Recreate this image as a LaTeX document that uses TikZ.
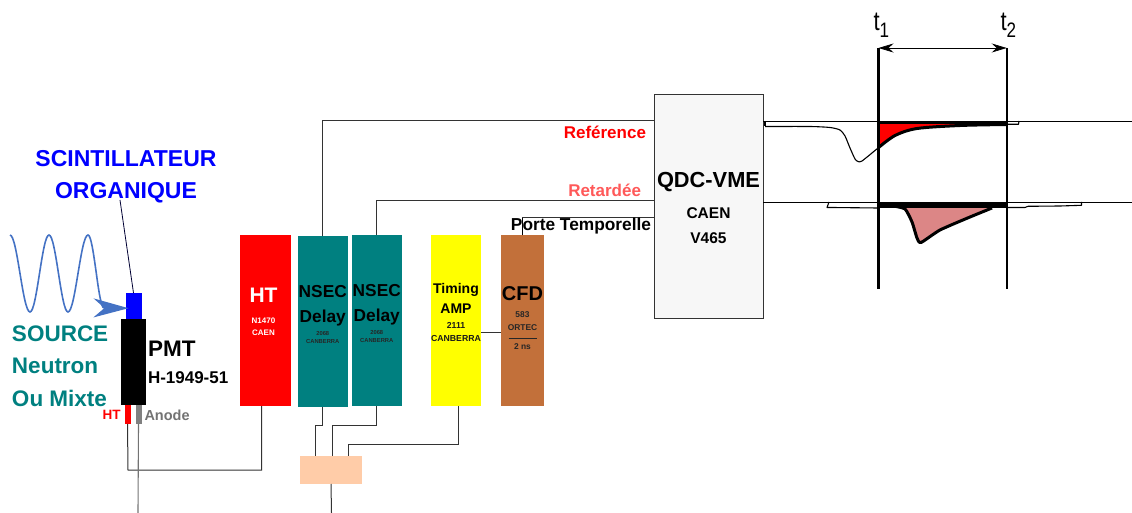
\documentclass[tikz,border=0pt]{standalone}
\usepackage{graphicx}
\usepackage{fontspec}
\setmainfont{Liberation Sans}
\usetikzlibrary{positioning,arrows.meta}
\definecolor{tealblock}{RGB}{0,128,128}
\definecolor{brownblock}{HTML}{C2703A}
\definecolor{peachblock}{HTML}{FFCCA8}
\definecolor{yellowblock}{RGB}{255,255,0}
\definecolor{wavecol}{HTML}{4472C4}
\definecolor{pinkpulse}{HTML}{DC8686}
\newcommand{\fs}[1]{\fontsize{#1}{#1}\selectfont\bfseries}
\newcommand{\tlabel}[1]{\scalebox{1.1}[1.35]{\fontsize{20}{20}\selectfont t\raisebox{-5pt}{\fontsize{15.5}{15.5}\selectfont #1}}}
\begin{document}
\begin{tikzpicture}[x=1pt, y=-1pt,
  main/.style = {draw=none, rectangle, inner sep=0pt, outer sep=0pt, minimum width=#1, minimum height=171pt},
  part/.style = {draw=none, rectangle, inner sep=0pt, outer sep=0pt},
  txt/.style = {inner sep=0pt, outer sep=0pt, align=center},
  conn/.style = {line width=1pt, black!80},
  timeline/.style = {line width=2.4pt, black},
  pulse/.style = {line width=1.1pt, black, line join=round},
  thickpulse/.style = {line width=3pt, black, line join=round}]
\useasboundingbox (0,0) rectangle (1132,513);

\node[main=51pt, fill=red] (ht) at (265.5,320.5) {};
\node[main=50.5pt, fill=tealblock, right=6.5pt of ht, yshift=-1pt] (nsecone) {};
\node[main=49.5pt, fill=tealblock, right=4pt of nsecone, yshift=1pt] (nsectwo) {};
\node[main=50pt, fill=yellowblock, right=29.5pt of nsectwo] (timing) {};
\node[main=43pt, fill=brownblock, right=20pt of timing] (cfd) {};
\node[part, fill=peachblock, minimum width=62pt, minimum height=28pt] (mix) at (331,470) {};
\node[part, draw=black!80, line width=0.9pt, fill=black!3, minimum width=109pt, minimum height=223.5pt] (qdc) at (708.5,206.2) {};

\node[part, fill=black, minimum width=25pt, minimum height=85.5pt] (pmt) at (133.5,362.2) {};
\node[part, fill=blue, minimum width=16pt, minimum height=26.5pt, above=0pt of pmt] (scint) {};
\node[part, fill=red, minimum width=6pt, minimum height=19pt, below left=0pt and -9.5pt of pmt] (hvpin) {};
\node[part, fill=black!50, minimum width=6pt, minimum height=19pt, below right=0pt and -10.5pt of pmt] (anodepin) {};

\coordinate (refin) at (654,121);
\coordinate (delin) at (654,201);
\coordinate (gatein) at (654,218);
\coordinate (refend) at (1132,121);
\coordinate (delend) at (1132,202);
\coordinate (anodeend) at (138,513);
\coordinate (mixend) at (331.5,513);
\coordinate (scinttxt) at (120,200);

\draw[conn] (nsecone.north) |- (refin);
\draw[conn] (nsectwo.north) |- (delin);
\draw[conn] (cfd.north) |- (gatein);
\draw[conn] ([yshift=-12pt]timing.east) -- ([yshift=-12pt]cfd.west);
\draw[conn] ([xshift=2pt]timing.south) |- (348,444) -- ([xshift=17pt]mix.north);
\draw[conn] (nsecone.south) |- (315.5,425) -- ([xshift=-15.5pt]mix.north);
\draw[conn] (nsectwo.south) |- (332,425) -- ([xshift=1pt]mix.north);
\draw[conn] ([xshift=-4pt]ht.south) |- (128,470) -- (hvpin.south);
\draw[line width=1.1pt, black!55] (anodepin.south) -- (anodeend);
\draw[conn] (mix.south) -- (mixend);
\draw[line width=0.8pt, black] (qdc.east |- refend) -- (refend);
\draw[line width=0.8pt, black] (qdc.east |- delend) -- (delend);
\draw[line width=0.8pt, black!80!blue] (scinttxt) -- (scint.north);

\draw[wavecol, line width=1.6pt] (10,235) cos (20,273.5) sin (30,312) cos (39.5,273.5) sin (49,235) cos (58.5,273.5) sin (68,312) cos (78,273.5) sin (88,235) cos (96,271) sin (104,308);
\coordinate (waveend) at (104,308);
\draw[wavecol, line width=1.4pt, -{Stealth[length=35pt,width=19pt,inset=11pt]}] (waveend) -- ([xshift=-5pt,yshift=-2pt]scint.center);

\node[txt, text=blue, font=\fs{23}] (scinttitle) at (126,177) {SCINTILLATEUR\\[9pt]ORGANIQUE};
\node[txt, text=tealblock, font=\fs{22.5}, align=left, anchor=west] (source) at (12,366) {SOURCE\\[10pt]Neutron\\[10pt]Ou Mixte};
\node[txt, font=\fs{22.5}, anchor=west] (pmttxt) at (148,349) {PMT};
\node[txt, font=\fs{17}, anchor=west] (pmtref) at (148,378) {H-1949-51};
\node[txt, text=red, font=\fs{13.5}, left=4pt of hvpin, yshift=0pt] (hvtxt) {HT};
\node[txt, text=black!55, font=\fs{14.5}, right=3pt of anodepin, yshift=-1pt] (anodetxt) {Anode};

\node[txt, text=white, font=\fs{21}, below=53pt of ht.north, xshift=-2pt] (httxt) {HT};
\node[txt, text=white, font=\fs{8}, below=15pt of httxt] (htref) {N1470\\[4pt]CAEN};
\node[txt, font=\fs{17.3}, below=49pt of nsecone.north] (nseconetxt) {NSEC\\[8pt]Delay};
\node[txt, black!85, font=\fs{5.8}, below=5pt of nseconetxt] (nseconeref) {2068\\[3pt]CANBERRA};
\node[txt, font=\fs{17.3}, below=49pt of nsectwo.north] (nsectwotxt) {NSEC\\[8pt]Delay};
\node[txt, black!85, font=\fs{5.8}, below=5pt of nsectwotxt] (nsectworef) {2068\\[3pt]CANBERRA};
\node[txt, font=\fs{14}, below=48pt of timing.north] (timingtxt) {Timing\\[6pt]AMP};
\node[txt, black!90, font=\fs{8.7}, below=9.5pt of timingtxt] (timingref) {2111\\[4.5pt]CANBERRA};
\node[txt, font=\fs{20}, below=52pt of cfd.north] (cfdtxt) {CFD};
\node[txt, black!85, font=\fs{8.4}, below=10.5pt of cfdtxt] (cfdref) {583\\[4.5pt]ORTEC\\[0pt]\rule{28pt}{0.7pt}\\[2pt]2 ns};

\node[txt, font=\fs{21.8}, below=78pt of qdc.north] (qdctxt) {QDC-VME};
\node[txt, font=\fs{15.5}, below=16pt of qdctxt] (qdcref) {CAEN\\[9pt]V465};

\node[txt, text=red, font=\fs{17}, anchor=east] (reftxt) at (646,132) {Reférence};
\node[txt, text=red!65!white, font=\fs{17}, anchor=east] (deltxt) at (641,190) {Retardée};
\node[txt, font=\fs{17.3}, anchor=east, fill=none] (gatetxt) at (651,226.5) {Porte Temporelle};
\draw[black, line width=0.7pt] (cfd.north) -- ++(0,-17);

\coordinate (tonetop) at (878.5,48);
\coordinate (tonebot) at (878.5,289);
\coordinate (ttwotop) at (1006.7,48);
\coordinate (ttwobot) at (1006.7,289);

\fill[red] plot[smooth, tension=0.5] coordinates {(878,148) (895,135.5) (917,128.5) (960,125.5) (1006,124.5)} -- (1006,122) -- (878,122) -- cycle;
\fill[pinkpulse] plot[smooth, tension=0.35] coordinates {(893,206) (905,209) (912,222) (917,238) (921,242.5) (940,230) (970,217) (992,208)} -- cycle;
\draw[pulse] plot[smooth, tension=0.4] coordinates {(765,126.5) (810,126.5) (830,127.5) (840,130) (845,136) (850,148) (855,159) (858,161.5) (862,161) (878,148)};
\draw[pulse] (765,121) -- (765,126.5);
\draw[thickpulse] plot[smooth, tension=0.5] coordinates {(878,148) (895,135.5) (917,128.5) (960,125.5) (1006,124.5)};
\draw[pulse] (1006,124.3) -- (1018.5,124.3) -- (1019,121);
\draw[thickpulse] (878,122.3) -- (1006.7,122.3);
\draw[line width=6pt, black] (878,205.5) -- (1006.7,205.5);
\draw[pulse] (878,208) -- (832,207.5) -- (827,207.5) -- (829,202);
\draw[pulse] (1006,207.5) -- (1025,207.5) -- (1028,206.3) -- (1060,206) -- (1081.5,205.3) -- (1081.5,202);
\draw[thickpulse] plot[smooth, tension=0.35] coordinates {(893,206) (905,209) (912,222) (917,238) (921,242.5) (940,230) (970,217) (992,208)};

\draw[timeline] (tonetop) -- (tonebot);
\draw[timeline] (ttwotop) -- (ttwobot);
\draw[line width=0.7pt, black, {Stealth[length=15pt,width=9pt,inset=5pt]}-{Stealth[length=15pt,width=9pt,inset=5pt]}] (tonetop) -- (ttwotop);
\node[txt, anchor=base west] (tonetxt) at (873.5,31) {\tlabel{1}};
\node[txt, anchor=base west] (ttwotxt) at (1000.5,31) {\tlabel{2}};
\end{tikzpicture}
\end{document}
